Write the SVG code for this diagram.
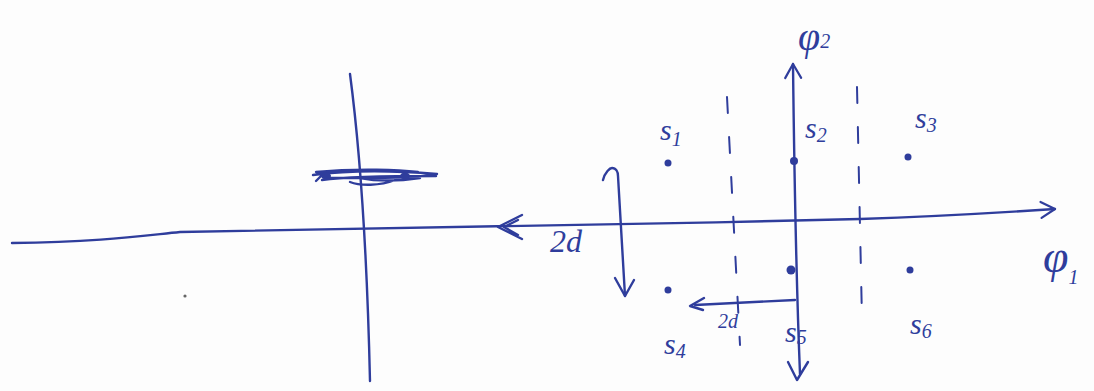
<svg xmlns="http://www.w3.org/2000/svg" width="1094" height="391" viewBox="0 0 1094 391">
<style>
.ink{fill:none;stroke:#2f3d9c;stroke-width:2.4;stroke-linecap:round;stroke-linejoin:round}
.dash{fill:none;stroke:#2f3d9c;stroke-width:2;stroke-dasharray:16 24;stroke-linecap:round}
.dot{fill:#2f3d9c}
.lbl{font-family:"Liberation Serif",serif;font-style:italic;font-size:30px;fill:#2f3d9c}
.sub{font-size:20px}
.sm{font-family:"Liberation Serif",serif;font-style:italic;font-size:20px;fill:#2f3d9c}
</style>
<defs>
<marker id="chev" viewBox="0 0 20 20" refX="18" refY="10" markerWidth="20" markerHeight="20" markerUnits="userSpaceOnUse" orient="auto">
<path d="M4 2 L18 10 L4 18" fill="none" stroke="#2f3d9c" stroke-width="2.2" stroke-linecap="round" stroke-linejoin="round"/>
</marker>
</defs>
<rect width="1094" height="391" fill="#fdfdfd"/>
<g id="connectors">
<path class="ink" d="M350 74 C360 150 367 250 370 381"/>
<path class="ink" d="M313 175 C350 170 400 171 437 174 C420 178 380 178 330 178 M316 172 C360 168 400 170 418 172 M322 180 C350 176 400 176 436 176 M324 173 l-8 8 M350 182 c10 4 30 4 45 -2 M360 178 c20 4 40 3 60 0" stroke-width="3"/>
<ellipse class="dot" cx="326" cy="176" rx="5" ry="3.5"/>
<ellipse class="dot" cx="405" cy="176" rx="5" ry="3.5"/>
<path class="ink" d="M12 243 C100 242 140 236 180 232 C300 228 600 226 860 219 C950 216 1010 212 1055 209" marker-end="url(#chev)"/>
<path class="ink" d="M522 215 L498 227 L522 239 M518 220 L504 227 L518 235"/>
<path class="ink" d="M800 374 C797 300 794 150 793 64" marker-end="url(#chev)"/>
<path class="ink" d="M788 362 L797 380 L808 362"/>
<path class="dash" d="M727 97 L740 345"/>
<path class="dash" d="M857 87 L862 320"/>
<path class="ink" d="M603 180 C605 172 610 168 612 168 C616 168 618 172 618 176 L625 296"/>
<path class="ink" d="M615 278 L625 296 L634 280"/>
<path class="ink" d="M795 300 L695 305"/>
<path class="ink" d="M704 298 L690 306 L703 310"/>
</g>
<g id="s1"><circle class="dot" cx="668" cy="163" r="3.5"/><text class="lbl" x="660" y="140">s<tspan class="sub" dy="6">1</tspan></text></g>
<g id="s2"><circle class="dot" cx="794" cy="161" r="4"/><text class="lbl" x="805" y="138">s<tspan class="sub" dy="4">2</tspan></text></g>
<g id="s3"><circle class="dot" cx="908" cy="157" r="3.5"/><text class="lbl" x="915" y="128">s<tspan class="sub" dy="4">3</tspan></text></g>
<g id="s4"><circle class="dot" cx="668" cy="290" r="3.5"/><text class="lbl" x="664" y="354">s<tspan class="sub" dy="4">4</tspan></text></g>
<g id="s5"><circle class="dot" cx="791" cy="270" r="4.5"/><text class="lbl" x="785" y="342">s<tspan class="sub" dy="2">5</tspan></text></g>
<g id="s6"><circle class="dot" cx="910" cy="270" r="3.5"/><text class="lbl" x="910" y="334">s<tspan class="sub" dy="4">6</tspan></text></g>
<g id="labels">
<text class="lbl" x="550" y="252" style="font-size:32px">2d</text>
<text class="sm" x="718" y="328">2d</text>
<text class="lbl" x="798" y="50" style="font-size:40px">φ<tspan class="sub" dy="-2">2</tspan></text>
<text class="lbl" x="1043" y="272" style="font-size:46px">φ<tspan class="sub" dy="12">1</tspan></text>
</g>
<circle cx="185" cy="296" r="1.6" fill="#666"/>
</svg>
